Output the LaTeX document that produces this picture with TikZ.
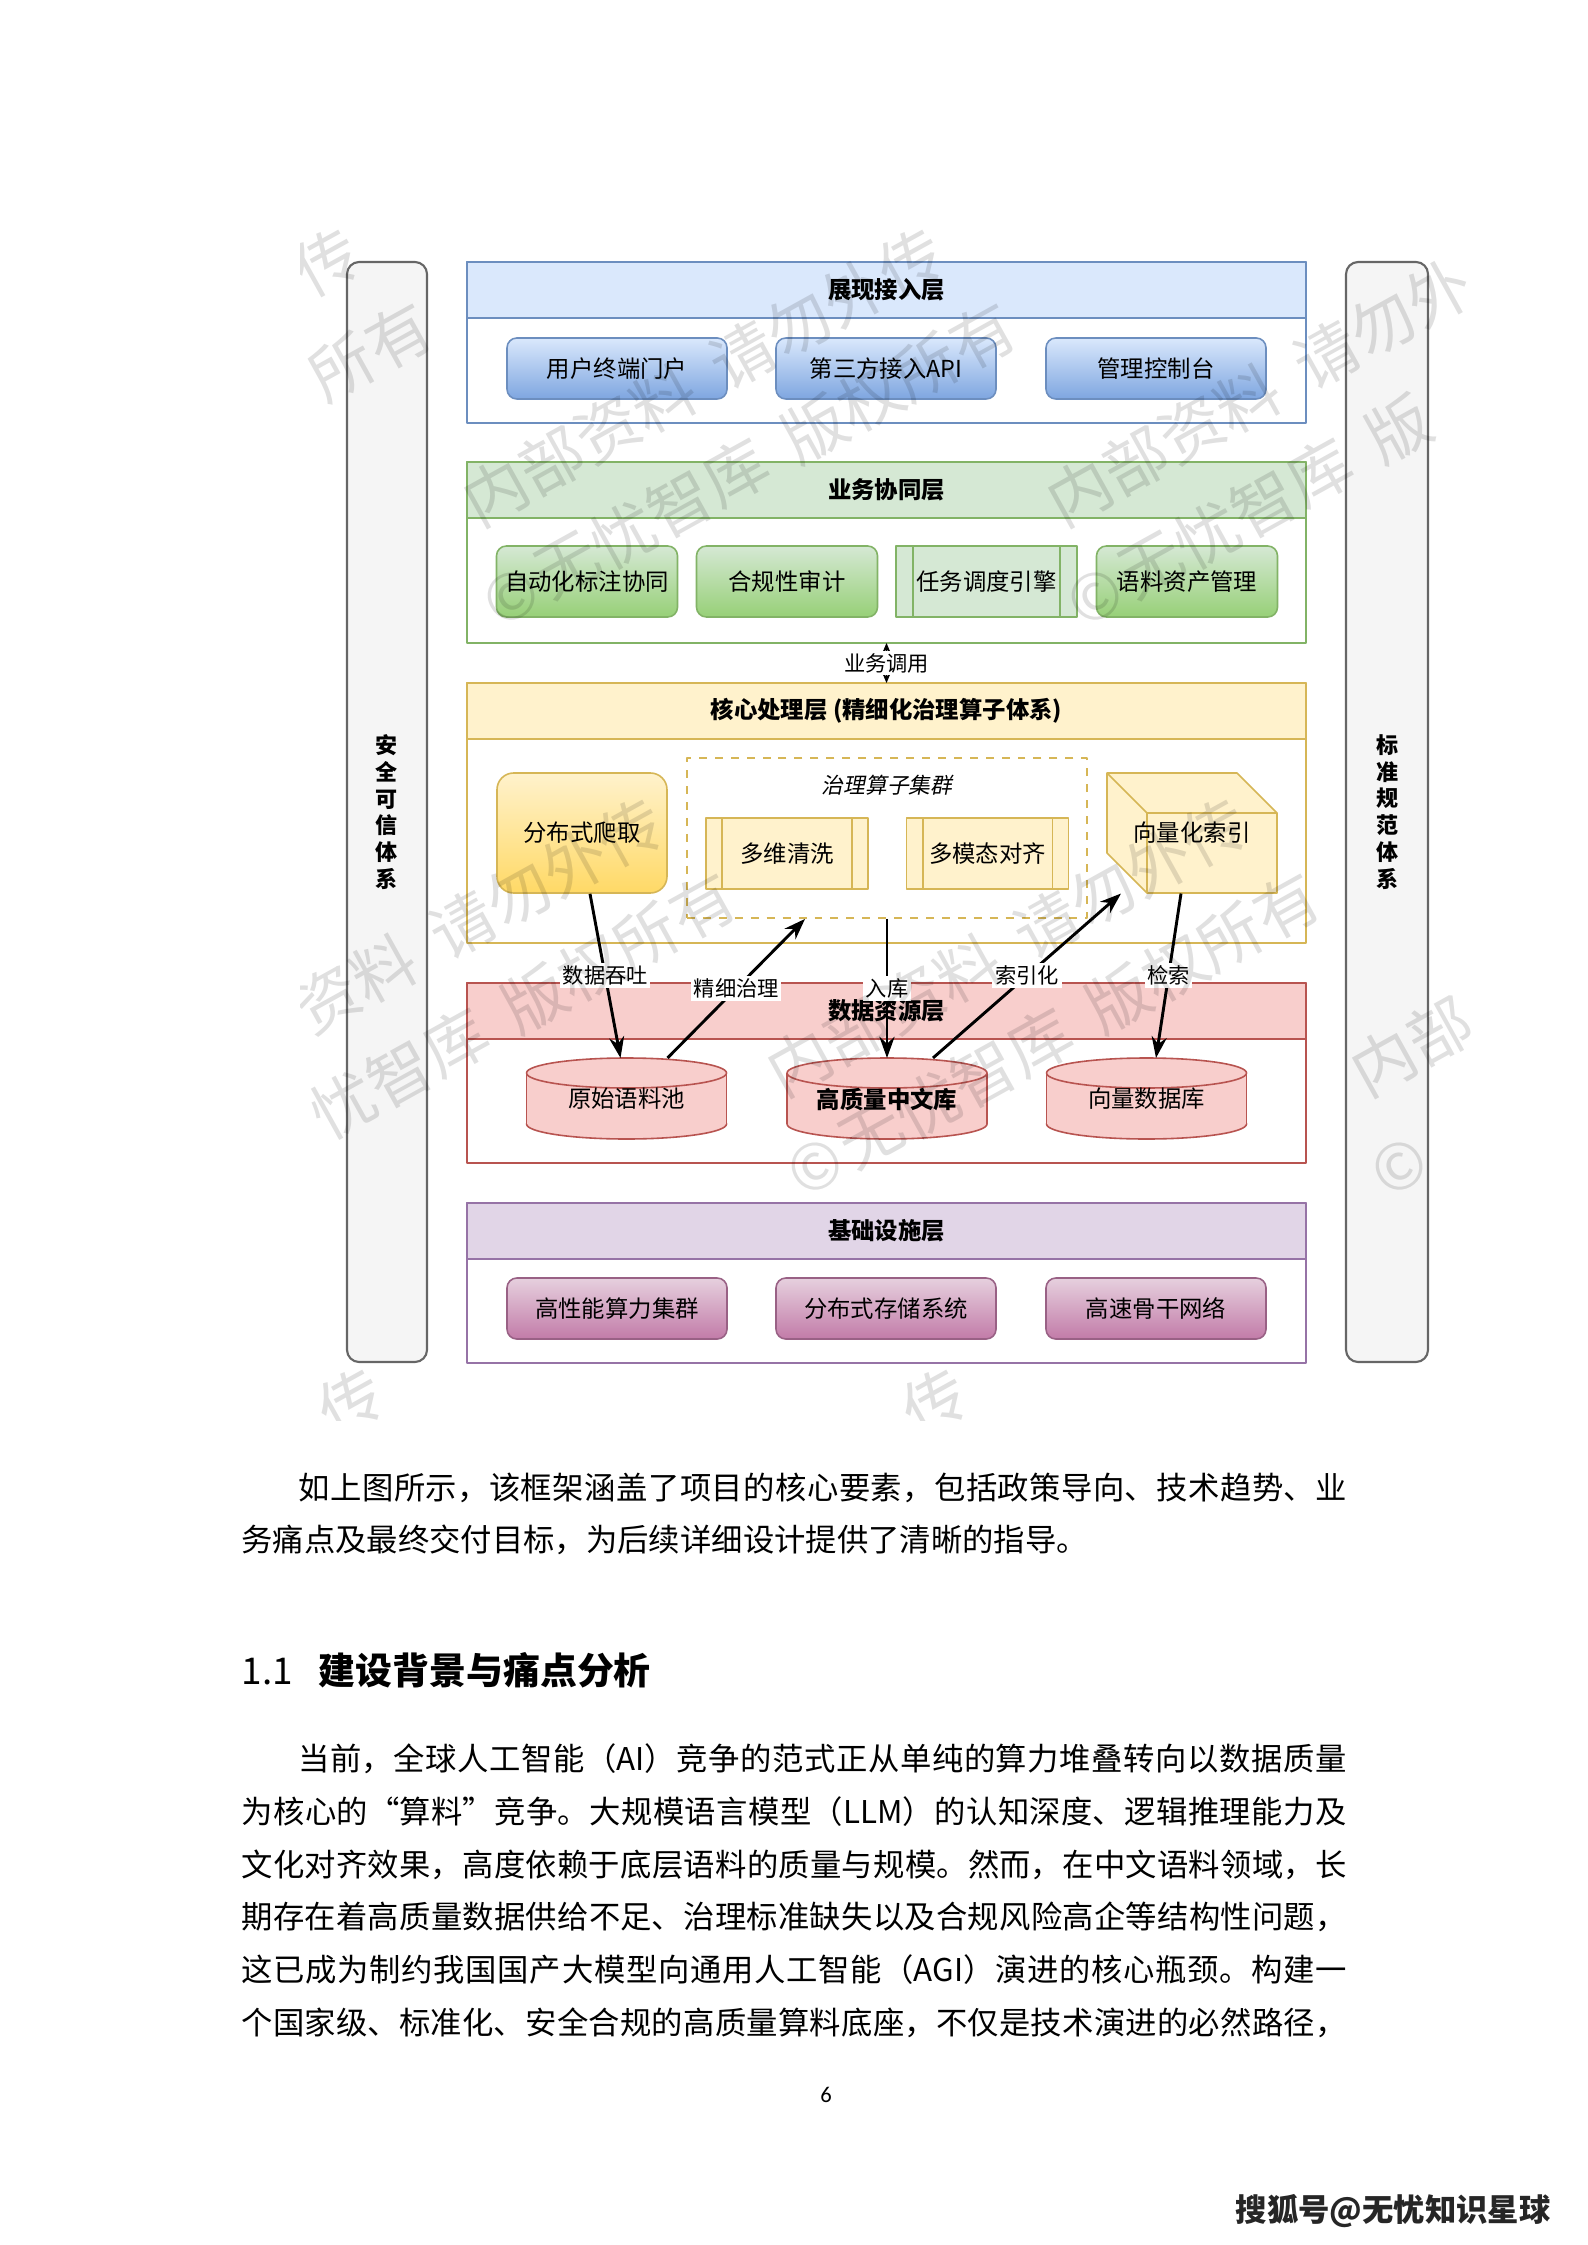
\documentclass[tikz,border=0pt]{standalone}
\usepackage{fontspec}
\setmainfont{Noto Sans CJK SC}
\newfontfamily\slantcjk[FakeSlant=0.2]{Noto Sans CJK SC}
\newfontfamily\pagenumfont{Carlito}
\usetikzlibrary{calc,arrows.meta}
\XeTeXlinebreaklocale "zh"
\XeTeXlinebreakskip=0pt plus 1pt minus 0.1pt
\newlength\pxu
\setlength\pxu{0.13233mm}
\newcommand\setfs[2]{\fontsize{#1pt}{#2pt}\selectfont}
% layer colours
\definecolor{bluefill}{HTML}{DAE8FC}
\definecolor{blueline}{HTML}{6C8EBF}
\definecolor{bluedark}{HTML}{7EA6E0}
\definecolor{greenfill}{HTML}{D5E8D4}
\definecolor{greenline}{HTML}{82B366}
\definecolor{greendark}{HTML}{97D077}
\definecolor{yelfill}{HTML}{FFF2CC}
\definecolor{yelline}{HTML}{D6B656}
\definecolor{yeldark}{HTML}{FFD966}
\definecolor{redfill}{HTML}{F8CECC}
\definecolor{redline}{HTML}{B85450}
\definecolor{purfill}{HTML}{E1D5E7}
\definecolor{purline}{HTML}{9673A6}
\definecolor{pinkfill}{HTML}{E6D0DE}
\definecolor{pinkdark}{HTML}{C27BA8}
\definecolor{pinkline}{HTML}{996185}
\definecolor{greyfill}{HTML}{F5F5F5}
\definecolor{greyline}{HTML}{666666}
\begin{document}
\begin{tikzpicture}[x=\pxu, y=-\pxu, line join=round,
  btn/.style={rounded corners=1.3mm, line width=0.6pt, minimum width=220\pxu, minimum height=61\pxu, inner sep=0pt, font=\setfs{8.8}{10}},
  subbox/.style={btn, minimum width=181\pxu, minimum height=71\pxu},
  procbox/.style={draw=#1, line width=0.6pt, minimum height=71\pxu, inner sep=0pt, font=\setfs{8.8}{10}},
  layer/.style={line width=0.8pt, fill=white, minimum width=839\pxu, inner sep=0pt, outer sep=0pt},
  sidebar/.style={draw=greyline, fill=greyfill, line width=0.8pt, rounded corners=1.6mm, minimum height=1100\pxu, align=center, font=\bfseries\setfs{8.3}{10.1}},
  flow/.style={-{Stealth[length=2.8mm,width=2mm]}, line width=1.1pt},
  lbl/.style={fill=white, inner sep=1pt, font=\setfs{8}{9}},
  wm/.style={text=black, text opacity=0.12, font=\setfs{24}{24}, rotate=29, inner sep=0pt},
  para/.style={text width=1105\pxu, align=justify, inner sep=0pt, anchor=north west, font=\setfs{11.8}{19.9}}]
\useasboundingbox (0,0) rectangle (1587,2245);
% side systems
\node[sidebar, minimum width=80\pxu] (safety) at (387,812) {安\\全\\可\\信\\体\\系};
\node[sidebar, minimum width=82\pxu] (standard) at (1387,812) {标\\准\\规\\范\\体\\系};
% the five layers
\foreach \n/\cy/\hh/\fc/\lc/\ttl in {1/342.5/161/bluefill/blueline/展现接入层,
    2/552.5/181/greenfill/greenline/业务协同层,
    3/813/260/yelfill/yelline/{核心处理层 (精细化治理算子体系)},
    4/1073/180/redfill/redline/数据资源层,
    5/1283/160/purfill/purline/基础设施层}{
  \node[layer, draw=\lc, minimum height=\hh\pxu] (lay\n) at (886.5,\cy) {};
  \draw[draw=\lc, fill=\fc, line width=0.8pt] (lay\n.north west) rectangle ($(lay\n.north east)+(0,56)$);
  \node[font=\bfseries\setfs{8.8}{10}] (ttl\n) at ($(lay\n.north)+(0,28)$) {\ttl};
}
% access layer
\foreach \nm/\x/\txt in {portal/617/用户终端门户, openapi/886/第三方接入API, console/1156/管理控制台}
  \node[btn, draw=blueline, top color=bluefill, bottom color=bluedark] (\nm) at (\x,368.5) {\txt};
% business layer
\foreach \nm/\x/\txt in {tagging/587/自动化标注协同, audit/787/合规性审计, asset/1187/语料资产管理}
  \node[subbox, draw=greenline, top color=greenfill, bottom color=greendark] (\nm) at (\x,581.5) {\txt};
\node[procbox=greenline, fill=greenfill, minimum width=181\pxu] (engine) at (986.5,581.5) {任务调度引擎};
\draw[greenline, line width=0.6pt] ([xshift=18\pxu]engine.north west) -- ([xshift=18\pxu]engine.south west)
  ([xshift=-18\pxu]engine.north east) -- ([xshift=-18\pxu]engine.south east);
% core layer
\node[draw=yelline, line width=0.6pt, rounded corners=2.2mm, top color=yelfill, bottom color=yeldark,
  minimum width=170\pxu, minimum height=120\pxu, font=\setfs{8.8}{10}] (crawl) at (582,833) {分布式爬取};
\node[draw=yelline, dashed, line width=0.7pt, minimum width=400\pxu, minimum height=160\pxu, inner sep=0pt] (govern) at (887,838) {};
\node[font=\slantcjk\setfs{8.2}{9}] (governttl) at (887,785) {治理算子集群};
\foreach \nm/\x/\txt in {clean/787/多维清洗, mmalign/987.5/多模态对齐}{
  \node[procbox=yelline, fill=yelfill, minimum width=162\pxu] (\nm) at (\x,853.5) {\txt};
  \draw[yelline, line width=0.6pt] ([xshift=17\pxu]\nm.north west) -- ([xshift=17\pxu]\nm.south west)
    ([xshift=-17\pxu]\nm.north east) -- ([xshift=-17\pxu]\nm.south east);
}
\filldraw[draw=yelline, fill=yelfill, line width=0.6pt] (1107,773) -- (1237,773) -- (1277,813) -- (1277,893) -- (1147,893) -- (1107,853) -- cycle;
\draw[yelline, line width=0.6pt] (1107,773) -- (1147,813) -- (1277,813) (1147,813) -- (1147,893);
\node[minimum width=170\pxu, minimum height=120\pxu, inner sep=0pt, font=\setfs{8.8}{10}] (vecidx) at (1192,833) {向量化索引};
% data layer
\foreach \nm/\x/\txt in {rawpool/626.5/原始语料池, hqlib/887/{\bfseries 高质量中文库}, vecdb/1146.5/向量数据库}{
  \filldraw[draw=redline, fill=redfill, line width=0.6pt] (\x,1124) ellipse [x radius=100, y radius=15];
  \fill[redfill] (\x-100,1073) rectangle (\x+100,1124);
  \draw[redline, line width=0.6pt] (\x-100,1073) -- (\x-100,1124) (\x+100,1073) -- (\x+100,1124);
  \filldraw[draw=redline, fill=redfill, line width=0.6pt] (\x,1073) ellipse [x radius=100, y radius=15];
  \node[minimum width=200\pxu, minimum height=81\pxu, inner sep=0pt, font=\setfs{8.8}{10}] (\nm) at (\x,1099) {\txt};
}
% infrastructure layer
\foreach \nm/\x/\txt in {hpc/617/高性能算力集群, dfs/886/分布式存储系统, backbone/1156/高速骨干网络}
  \node[btn, draw=pinkline, top color=pinkfill, bottom color=pinkdark] (\nm) at (\x,1308.5) {\txt};
% flows
\draw[{Stealth[length=1.3mm,width=1.1mm]}-{Stealth[length=1.3mm,width=1.1mm]}, line width=0.4pt]
  (lay2.south) -- node[lbl] (callttl) {业务调用} (lay3.north);
\draw[flow] ($(crawl.south)+(8,0)$) -- node[lbl] (thru) {数据吞吐} ($(rawpool.north)+(-6,0)$);
\draw[flow] ($(rawpool.north)+(41,0)$) -- node[lbl] (refine) {精细治理} ($(govern.south)+(-82,0)$);
\draw[flow] (govern.south) -- node[lbl] (store) {入库} (hqlib.north);
\draw[flow] ($(hqlib.north)+(46,0)$) -- node[lbl] (index) {索引化} ($(vecidx.south)+(-71,0)$);
\draw[flow] ($(vecidx.south)+(-11,0)$) -- node[lbl] (search) {检索} ($(vecdb.north)+(9.5,0)$);
% watermark over the figure, one glyph at a time
\begin{scope}
  \clip (300,205) rectangle (1470,1420);
  \foreach \i in {-1,0,1,2}
    \foreach \j in {0,1,2}{
      \foreach \k/\pos/\wch in {0/0/内,1/1/部,2/2/资,3/3/料,4/4.4/请,5/5.4/勿,6/6.4/外,7/7.4/传}{
        \pgfmathsetmacro\wx{468+584*\i-280*\j+(\pos+0.5)*64*cos(29)}
        \pgfmathsetmacro\wy{507+570*\j-(\pos+0.5)*64*sin(29)}
        \pgfmathtruncatemacro\inside{(\wx>318)&&(\wx<1452)&&(\wy>222)&&(\wy<1402)}
        \ifnum\inside=1 \node[wm] (wmA\i\j\k) at (\wx,\wy) {\wch}; \fi
      }
      \foreach \k/\pos/\wch in {0/0/©,1/1/无,2/2/忧,3/3/智,4/4/库,5/5.4/版,6/6.4/权,7/7.4/所,8/8.4/有}{
        \pgfmathsetmacro\wx{484+584*\i-280*\j+(\pos+0.5)*64*cos(29)}
        \pgfmathsetmacro\wy{612+570*\j-(\pos+0.5)*64*sin(29)}
        \pgfmathtruncatemacro\inside{(\wx>318)&&(\wx<1452)&&(\wy>222)&&(\wy<1402)}
        \ifnum\inside=1 \node[wm] (wmB\i\j\k) at (\wx,\wy) {\wch}; \fi
      }
    }
\end{scope}
% page text
\node[para] (intro) at (241,1472) {\noindent\hspace*{57\pxu}如上图所示，该框架涵盖了项目的核心要素，包括政策导向、技术趋势、业\linebreak
  务痛点及最终交付目标，为后续详细设计提供了清晰的指导。};
\node[anchor=west, inner sep=0pt, font=\bfseries\setfs{13.9}{16}] (sechead) at (241,1670) {{\mdseries 1.1}\hspace{0.7em}建设背景与痛点分析};
\node[para] (background) at (241,1743) {\noindent\hspace*{57\pxu}当前，全球人工智能（AI）竞争的范式正从单纯的算力堆叠转向以数据质量\linebreak
  为核心的“算料”竞争。大规模语言模型（LLM）的认知深度、逻辑推理能力及\linebreak
  文化对齐效果，高度依赖于底层语料的质量与规模。然而，在中文语料领域，长\linebreak
  期存在着高质量数据供给不足、治理标准缺失以及合规风险高企等结构性问题，\linebreak
  这已成为制约我国国产大模型向通用人工智能（AGI）演进的核心瓶颈。构建一\linebreak
  个国家级、标准化、安全合规的高质量算料底座，不仅是技术演进的必然路径，\linebreak};
\node[font=\pagenumfont\setfs{8.5}{10}] (pagenum) at (826,2095) {6};
\node[font=\bfseries\setfs{11.8}{12}, text=black!85] (sohu) at (1393,2211) {搜狐号@无忧知识星球};
\end{tikzpicture}
\end{document}
